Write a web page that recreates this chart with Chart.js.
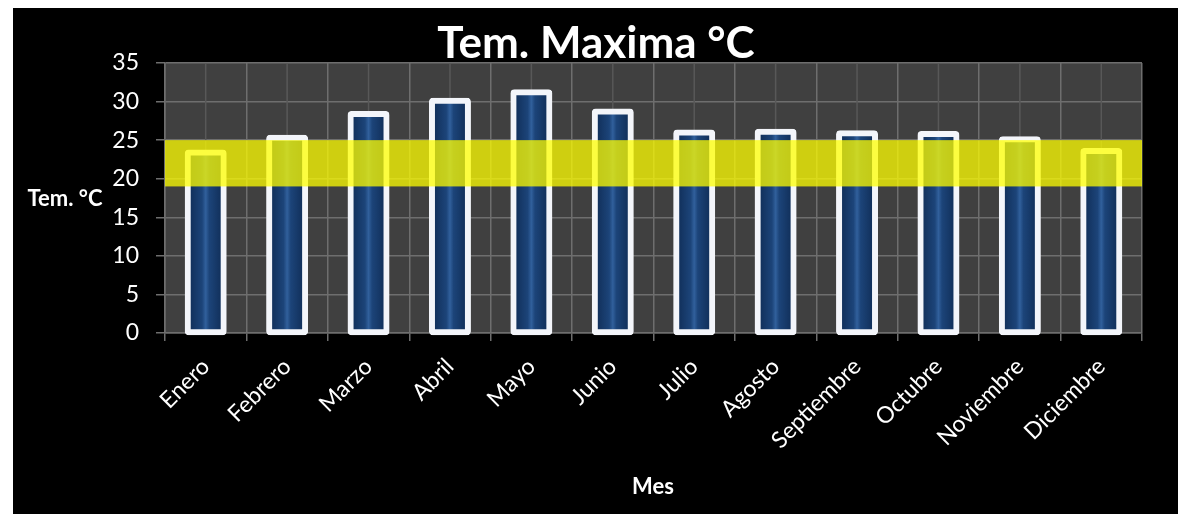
<!DOCTYPE html>
<html>
<head>
<meta charset="utf-8">
<script src="https://cdn.jsdelivr.net/npm/chart.js@4"></script>
<style>
    html, body { margin: 0; padding: 0; background: #ffffff; }
    #marco { position: absolute; left: 13px; top: 8px; width: 1165px; height: 506px; background: #000000; }
</style>
</head>
<body>
<div id="marco"><canvas id="grafica"></canvas></div>
<script>
const meses = ["Enero", "Febrero", "Marzo", "Abril", "Mayo", "Junio", "Julio", "Agosto", "Septiembre", "Octubre", "Noviembre", "Diciembre"];
const temMaxima = [23.4, 25.3, 28.4, 30.1, 31.2, 28.7, 26.0, 26.1, 25.9, 25.8, 25.1, 23.6];
const ticksY = [0, 5, 10, 15, 20, 25, 30, 35];
const franjaBaja = 19;
const franjaAlta = 25;

const titulo = "Tem. Maxima °C";
const tituloY = "Tem. °C";
const tituloX = "Mes";

const fuente = "Lato, 'Open Sans', sans-serif";

// fondo gris del area, lineas centrales, franja amarilla y titulos
const extras = {
    id: "extras",
    beforeDraw(chart) {
        const { ctx, chartArea: a } = chart;
        ctx.save();
        ctx.fillStyle = "#404040";
        ctx.fillRect(a.left, a.top, a.right - a.left, a.bottom - a.top);
        ctx.restore();
    },
    beforeDatasetsDraw(chart) {
        const { ctx, chartArea: a, scales } = chart;
        ctx.save();
        ctx.strokeStyle = "#585858";
        ctx.lineWidth = 1.5;
        meses.forEach((m, i) => {
            const x = scales.x.getPixelForValue(i);
            ctx.beginPath();
            ctx.moveTo(x, a.top);
            ctx.lineTo(x, a.bottom);
            ctx.stroke();
        });
        ctx.restore();
    },
    afterDatasetsDraw(chart) {
        const { ctx, chartArea: a, scales } = chart;
        const y1 = scales.y.getPixelForValue(franjaAlta);
        const y2 = scales.y.getPixelForValue(franjaBaja);
        ctx.save();
        ctx.fillStyle = "rgba(255,255,0,0.75)";
        ctx.fillRect(a.left, y1, a.right - a.left, y2 - y1);
        ctx.restore();
    },
    afterDraw(chart) {
        const { ctx } = chart;
        ctx.save();
        ctx.fillStyle = "#ffffff";
        ctx.textAlign = "center";
        ctx.textBaseline = "middle";
        ctx.font = "bold 44px " + fuente;
        ctx.fillText(titulo, 583, 36);
        ctx.font = "bold 22px " + fuente;
        ctx.fillText(tituloY, 52, 191);
        ctx.fillText(tituloX, 640, 479);
        ctx.restore();
    }
};

const ctx = document.getElementById("grafica").getContext("2d");

new Chart(ctx, {
    type: "bar",
    data: {
        labels: meses,
        datasets: [
            {
                label: titulo,
                data: temMaxima,
                backgroundColor: function (c) {
                    const chart = c.chart;
                    if (!chart.chartArea || c.dataIndex === undefined) return "#1a3f72";
                    const x = chart.scales.x.getPixelForValue(c.dataIndex);
                    const g = chart.ctx.createLinearGradient(x - 18, 0, x + 18, 0);
                    g.addColorStop(0, "#0f2c55");
                    g.addColorStop(0.4, "#1c4479");
                    g.addColorStop(0.5, "#31609c");
                    g.addColorStop(0.6, "#1c4479");
                    g.addColorStop(1, "#0f2c55");
                    return g;
                },
                borderColor: "#f3f5fa",
                borderWidth: 6,
                borderSkipped: false,
                borderRadius: 4,
                inflateAmount: 3,
                barPercentage: 0.442,
                categoryPercentage: 1,
                clip: false
            }
        ]
    },
    options: {
        responsive: true,
        maintainAspectRatio: false,
        animation: false,
        layout: { padding: { top: 55, right: 36, left: 0, bottom: 0 } },
        plugins: {
            legend: { display: false },
            title: { display: false },
            tooltip: { enabled: false }
        },
        scales: {
            x: {
                afterFit: s => { s.height = 181; },
                grid: { color: "#6e6e6e", lineWidth: 1.5, tickLength: 8, offset: true },
                border: { color: "#6e6e6e", width: 1.5 },
                ticks: {
                    color: "#ffffff",
                    font: { family: fuente, size: 23 },
                    minRotation: 45,
                    maxRotation: 45,
                    padding: 12
                }
            },
            y: {
                min: 0,
                max: 35,
                afterFit: s => { s.width = 152; },
                afterBuildTicks: s => { s.ticks = ticksY.map(v => ({ value: v })); },
                grid: { color: "#6e6e6e", lineWidth: 1.5, tickLength: 9 },
                border: { color: "#6e6e6e", width: 1.5 },
                ticks: {
                    color: "#ffffff",
                    font: { family: fuente, size: 23 },
                    padding: 17
                }
            }
        }
    },
    plugins: [extras]
});
</script>
</body>
</html>
